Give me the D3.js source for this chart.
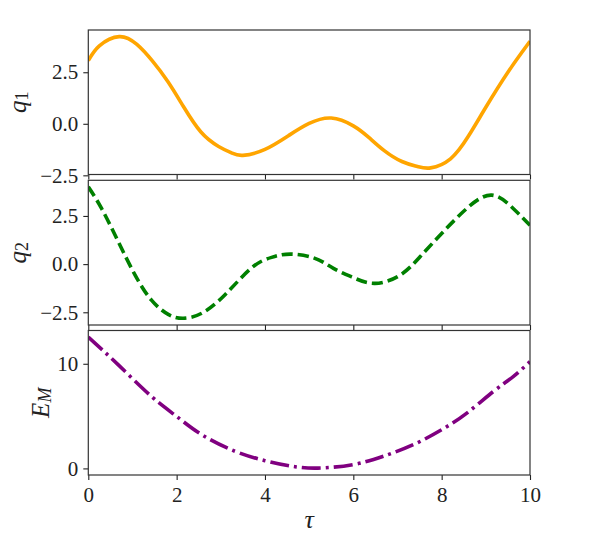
<!DOCTYPE html>
<html>
<head>
<meta charset="utf-8">
<script src="https://cdn.jsdelivr.net/npm/d3@7"></script>
<style>
  html, body { margin: 0; padding: 0; background: #fff; }
  svg text { font-family: "Liberation Serif", "DejaVu Serif", serif; fill: #222; }
</style>
</head>
<body>
<svg id="chart" width="589" height="549"></svg>
<script>
// ---- data ----
const tau1 = [0, 0.25, 0.70, 1.10, 1.45, 1.80, 2.15, 2.55, 2.95, 3.25, 3.50, 4.0, 4.55, 5.0, 5.50, 6.0, 6.35, 6.70, 7.10, 7.45, 7.75, 8.20, 8.60, 9.0, 9.50, 10.0];
const q1   = [3.06, 3.78, 4.23, 3.85, 3.05, 2.05, 0.85, -0.40, -1.10, -1.42, -1.53, -1.24, -0.55, 0.02, 0.28, -0.10, -0.66, -1.30, -1.83, -2.07, -2.14, -1.70, -0.62, 0.80, 2.50, 4.00];

const tau2 = [0, 0.30, 0.68, 1.06, 1.43, 1.81, 2.15, 2.57, 3.09, 3.70, 4.15, 4.57, 5.13, 5.55, 6.0, 6.49, 7.06, 7.51, 8.0, 8.57, 9.13, 9.62, 10.0];
const q2   = [4.01, 2.89, 1.16, -0.57, -1.87, -2.61, -2.81, -2.55, -1.60, -0.19, 0.35, 0.52, 0.30, -0.22, -0.70, -1.00, -0.57, 0.38, 1.59, 2.89, 3.58, 2.89, 2.02];

const tau3 = [0, 0.68, 1.43, 2.0, 2.57, 3.32, 4.0, 4.6, 5.2, 6.0, 6.68, 7.36, 8.0, 8.57, 9.17, 9.62, 10.0];
const em   = [12.55, 9.89, 6.88, 4.97, 3.22, 1.64, 0.74, 0.21, 0.03, 0.37, 1.16, 2.27, 3.70, 5.29, 7.35, 8.78, 10.2];

const xTicks = [0, 2, 4, 6, 8, 10];
const qTicks = [-2.5, 0, 2.5];
const eTicks = [0, 10];

// ---- layout ----
const svg = d3.select("#chart");
const left = 88.3, right = 530;
const x = d3.scaleLinear().domain([0, 10]).range([left, right]);

const fmtQ = d => (d < 0 ? "\u2212" : "") + Math.abs(d).toFixed(1);
const fmtE = d => String(d);

const panels = [
  { top: 30, bottom: 174.5, tau: tau1, vals: q1, domain: [-2.46, 4.55], ticks: qTicks, fmt: fmtQ,
    color: "#FFA500", dash: null, label: ["q", "1"], labelX: 17, showX: false },
  { top: 180.3, bottom: 325, tau: tau2, vals: q2, domain: [-3.16, 4.35], ticks: qTicks, fmt: fmtQ,
    color: "#008000", dash: "11,5", label: ["q", "2"], labelX: 17, showX: false },
  { top: 330.5, bottom: 475, tau: tau3, vals: em, domain: [-0.63, 13.18], ticks: eTicks, fmt: fmtE,
    color: "#800080", dash: "19,5,3,5", label: ["E", "M"], labelX: 40, showX: true }
];

panels.forEach((p, i) => {
  const y = d3.scaleLinear().domain(p.domain).range([p.bottom, p.top]);
  const g = svg.append("g");

  const clipId = "clip" + i;
  svg.append("clipPath").attr("id", clipId)
    .append("rect").attr("x", left).attr("y", p.top)
    .attr("width", right - left).attr("height", p.bottom - p.top);

  const data = p.tau.map((t, k) => [t, p.vals[k]]);
  const line = d3.line().x(d => x(d[0])).y(d => y(d[1])).curve(d3.curveNatural);
  g.append("path").datum(data)
    .attr("clip-path", `url(#${clipId})`)
    .attr("d", line)
    .attr("fill", "none")
    .attr("stroke", p.color)
    .attr("stroke-width", 3.6)
    .attr("stroke-dasharray", p.dash)
    .attr("stroke-linecap", "butt");

  // y axis
  const yAxis = d3.axisLeft(y).tickValues(p.ticks).tickFormat(p.fmt).tickSize(5).tickPadding(5);
  const ya = g.append("g").attr("transform", `translate(${left},0)`).call(yAxis);
  ya.select(".domain").remove();
  ya.selectAll("line").attr("stroke", "#222").attr("stroke-width", 1.1);
  ya.selectAll("text").attr("font-size", 21).attr("fill", "#222");

  // x axis
  const xAxis = d3.axisBottom(x).tickValues(xTicks).tickSize(5).tickPadding(7)
    .tickFormat(p.showX ? (d => String(d)) : (() => ""));
  const xa = g.append("g").attr("transform", `translate(0,${p.bottom})`).call(xAxis);
  xa.select(".domain").remove();
  xa.selectAll("line").attr("stroke", "#222").attr("stroke-width", 1.1);
  xa.selectAll("text").attr("font-size", 21).attr("fill", "#222");

  // frame
  g.append("rect").attr("x", left).attr("y", p.top)
    .attr("width", right - left).attr("height", p.bottom - p.top)
    .attr("fill", "none").attr("stroke", "#333").attr("stroke-width", 1.2);

  // y label
  const cy = (p.top + p.bottom) / 2;
  const t = g.append("text")
    .attr("transform", `translate(${p.labelX},${cy}) rotate(-90)`)
    .attr("text-anchor", "middle")
    .attr("dominant-baseline", "central")
    .attr("font-size", 25);
  t.append("tspan").attr("font-style", "italic").text(p.label[0]);
  t.append("tspan").attr("font-size", 18).attr("font-style", p.label[1] === "M" ? "italic" : "normal")
    .attr("dy", 5).text(p.label[1]);
});

// x label
svg.append("text")
  .attr("x", (left + right) / 2).attr("y", 528)
  .attr("text-anchor", "middle")
  .attr("font-size", 26).attr("font-style", "italic")
  .text("\u03c4");
</script>
</body>
</html>
